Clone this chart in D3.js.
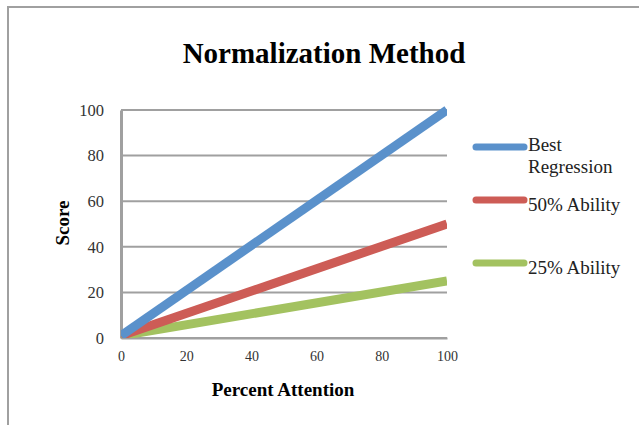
<!DOCTYPE html>
<html>
<head>
<meta charset="utf-8">
<script src="https://cdn.jsdelivr.net/npm/d3@7"></script>
<style>
  html, body { margin: 0; padding: 0; background: #fff; }
  svg { display: block; font-family: "Liberation Serif", "Times New Roman", serif; }
</style>
</head>
<body>
<svg id="chart" width="639" height="425"></svg>
<script>
// Percent attention at the two ends of each regression line
const attention = [0, 100];
// Scores for each series at those attention levels
const bestRegression = [1, 100];
const ability50 = [1, 50];
const ability25 = [1, 25];

const seriesNames = ["Best Regression", "50% Ability", "25% Ability"];
const seriesValues = [bestRegression, ability50, ability25];
const seriesColors = ["#5a91cb", "#cd5c56", "#a3c260"];

const xTicks = [0, 20, 40, 60, 80, 100];
const yTicks = [0, 20, 40, 60, 80, 100];

const svg = d3.select("#chart");

// outer frame (left and top edges)
svg.append("line").attr("x1", 8).attr("x2", 8).attr("y1", 7).attr("y2", 425)
  .attr("stroke", "#a0a0a0").attr("stroke-width", 2);
svg.append("line").attr("x1", 7).attr("x2", 639).attr("y1", 7).attr("y2", 7)
  .attr("stroke", "#a0a0a0").attr("stroke-width", 2);

const plot = { left: 121, right: 447, top: 110, bottom: 338 };

const x = d3.scaleLinear().domain([0, 100]).range([plot.left, plot.right]);
const y = d3.scaleLinear().domain([0, 100]).range([plot.bottom, plot.top]);

// title
svg.append("text")
  .attr("x", 324).attr("y", 63)
  .attr("text-anchor", "middle")
  .attr("font-size", 29).attr("font-weight", "bold")
  .attr("fill", "#000")
  .text("Normalization Method");

// horizontal gridlines
svg.append("g").selectAll("line").data(yTicks).join("line")
  .attr("x1", plot.left).attr("x2", plot.right)
  .attr("y1", d => y(d)).attr("y2", d => y(d))
  .attr("stroke", "#a0a0a0").attr("stroke-width", 2);

// y axis
const yAxis = svg.append("g")
  .attr("transform", `translate(${plot.left},0)`)
  .call(d3.axisLeft(y).tickValues(yTicks).tickSize(0).tickPadding(17));
yAxis.select(".domain").attr("stroke", "#a0a0a0").attr("stroke-width", 3);
yAxis.selectAll("text").attr("font-size", 16.5).attr("fill", "#333")
  .attr("font-family", "Liberation Serif, serif");

// x axis
const xAxis = svg.append("g")
  .attr("transform", `translate(0,${plot.bottom})`)
  .call(d3.axisBottom(x).tickValues(xTicks).tickSize(0).tickPadding(13));
xAxis.select(".domain").attr("stroke", "#a0a0a0").attr("stroke-width", 2);
xAxis.selectAll("text").attr("font-size", 14).attr("fill", "#333")
  .attr("font-family", "Liberation Serif, serif");

// axis titles
svg.append("text")
  .attr("transform", "translate(69,223) rotate(-90)")
  .attr("text-anchor", "middle")
  .attr("font-size", 19).attr("font-weight", "bold")
  .text("Score");
svg.append("text")
  .attr("x", 283).attr("y", 396)
  .attr("text-anchor", "middle")
  .attr("font-size", 19).attr("font-weight", "bold")
  .text("Percent Attention");

// clip series to the plot area
svg.append("clipPath").attr("id", "plotClip")
  .append("rect")
  .attr("x", plot.left).attr("y", plot.top - 6)
  .attr("width", plot.right - plot.left).attr("height", plot.bottom - plot.top + 6);

const line = d3.line().x(d => x(d[0])).y(d => y(d[1]));

svg.append("g").attr("clip-path", "url(#plotClip)")
  .selectAll("path").data(seriesValues.slice().reverse()).join("path")
  .attr("d", vals => line(attention.map((a, i) => [a, vals[i]])))
  .attr("fill", "none")
  .attr("stroke", (d, i) => seriesColors[seriesColors.length - 1 - i])
  .attr("stroke-width", 9);

// legend
const legendY = [147, 200, 263];
const legend = svg.append("g");
seriesNames.forEach((name, i) => {
  legend.append("line")
    .attr("x1", 476).attr("x2", 524)
    .attr("y1", legendY[i]).attr("y2", legendY[i])
    .attr("stroke", seriesColors[i]).attr("stroke-width", 7)
    .attr("stroke-linecap", "round");
  const t = legend.append("text")
    .attr("x", 528).attr("font-size", 19).attr("fill", "#222");
  if (i === 0) {
    t.attr("y", legendY[i] + 4);
    t.append("tspan").attr("x", 528).text("Best");
    t.append("tspan").attr("x", 528).attr("dy", 22).text("Regression");
  } else {
    t.attr("y", legendY[i] + 11).text(name);
  }
});
</script>
</body>
</html>
